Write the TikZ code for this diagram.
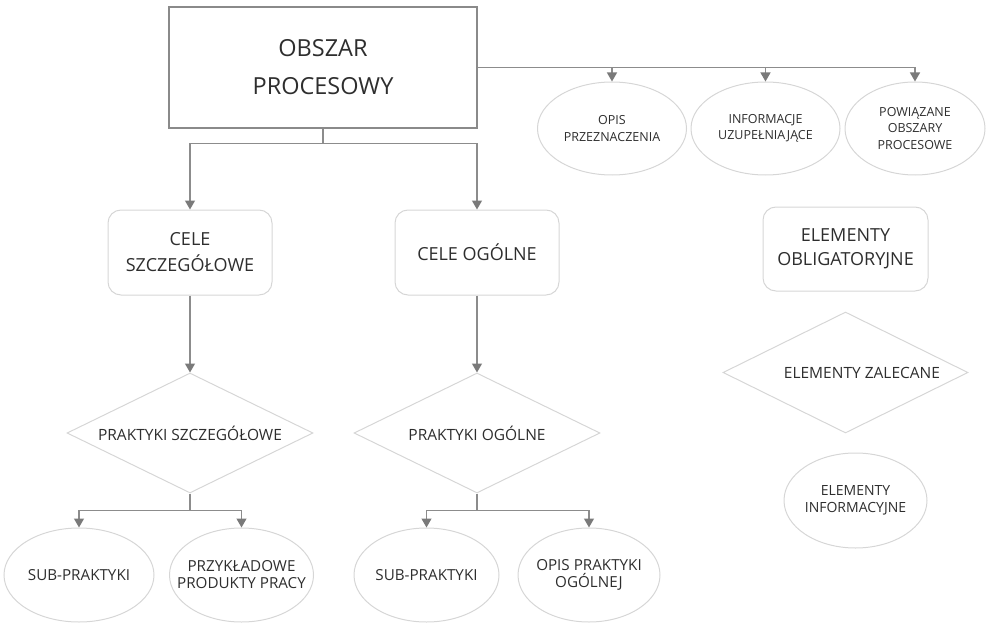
\documentclass[tikz,border=0pt]{standalone}
\usepackage{fontspec}
\setmainfont{Open Sans}
\usetikzlibrary{shapes.geometric,arrows.meta}
\definecolor{ink}{HTML}{2E2E2E}
\definecolor{wiregray}{HTML}{8C8C8C}
\definecolor{tipgray}{HTML}{7A7A7A}
\definecolor{framegray}{HTML}{8A8A8A}
\definecolor{rim}{HTML}{D6D6D6}
\begin{document}
\begin{tikzpicture}[x=1pt,y=-1pt,
  every node/.style={text=ink, inner sep=0pt, align=center},
  wire/.style={draw=wiregray, line width=1.3pt},
  arr/.style={wire, -{Triangle[width=10pt,length=9pt,color=tipgray]}},
  mainbox/.style={draw=framegray, line width=1.3pt, minimum width=308pt, minimum height=121pt,
    font=\fontsize{23.5}{38}\selectfont},
  goalbox/.style={draw=rim, line width=1pt, rounded corners=13pt, minimum width=164pt, minimum height=85pt,
    font=\fontsize{18}{26}\selectfont},
  oval/.style={ellipse, draw=rim, line width=1pt, inner xsep=-30pt, font=\fontsize{15.2}{17}\selectfont},
  topoval/.style={ellipse, draw=rim, line width=1pt, inner xsep=-20pt, minimum width=149pt, minimum height=93pt,
    font=\fontsize{12.5}{16.5}\selectfont},
  practice/.style={diamond, draw=rim, line width=1pt, aspect=2, minimum width=246pt, minimum height=120pt,
    font=\fontsize{15.5}{18}\selectfont}
]
\useasboundingbox (0,0) rectangle (988,623);

% top level (text sits a little below the box centre)
\node[mainbox] (main) at (323,67.5) {\raisebox{-7pt}{\begin{tabular}{@{}c@{}}OBSZAR\\PROCESOWY\end{tabular}}};

% descriptive elements on the right
\node[topoval] (opis) at (612,128.5) {OPIS\\PRZEZNACZENIA};
\node[topoval] (info) at (765.5,128.5) {INFORMACJE\\UZUPEŁNIAJĄCE};
\node[topoval, minimum width=140pt] (pow) at (915,128.5) {POWIĄZANE\\OBSZARY\\PROCESOWE};

% goals
\node[goalbox] (cs) at (190,252.5) {CELE\\SZCZEGÓŁOWE};
\node[goalbox] (co) at (477,252.5) {CELE OGÓLNE};

% practices
\node[practice] (ps) at (190,433) {PRAKTYKI SZCZEGÓŁOWE};
\node[practice] (po) at (477,433) {PRAKTYKI OGÓLNE};

% practice details
\node[oval, minimum width=150pt, minimum height=94pt] (sp1) at (79,575) {SUB-PRAKTYKI};
\node[oval, minimum width=144pt, minimum height=94pt] (pp) at (241.5,575) {PRZYKŁADOWE\\PRODUKTY PRACY};
\node[oval, minimum width=145pt, minimum height=94pt] (sp2) at (426.5,575) {SUB-PRAKTYKI};
\node[oval, minimum width=142pt, minimum height=94pt] (opo) at (589,575) {OPIS PRAKTYKI\\OGÓLNEJ};

% legend
\node[goalbox, minimum width=165pt, minimum height=84pt, font=\fontsize{18}{24}\selectfont] (obl) at (845.5,249) {ELEMENTY\\OBLIGATORYJNE};
\node[practice, minimum width=245pt, minimum height=121pt] (zal) at (845.5,372.5) {};
\node[font=\fontsize{15.5}{18}\selectfont] (zaltxt) at (862,372.5) {ELEMENTY ZALECANE};
\node[oval, minimum width=143pt, minimum height=95pt, font=\fontsize{14}{16.5}\selectfont] (inf) at (855.5,500.5) {ELEMENTY\\INFORMACYJNE};

% connectors: process area to goals
\draw[wire] (main.south) -- ++(0,15) coordinate (j1);
\draw[arr] (j1) -| (cs.north);
\draw[arr] (j1) -| (co.north);

% connectors: process area to descriptive elements
\draw[wire] (main.east) -- (pow.north |- main.east);
\draw[arr] (opis.north |- main.east) -- (opis.north);
\draw[arr] (info.north |- main.east) -- (info.north);
\draw[arr] (pow.north |- main.east) -- (pow.north);

% goals to practices
\draw[arr] (cs.south) -- (ps.north);
\draw[arr] (co.south) -- (po.north);

% practices to details
\draw[wire] (ps.south) -- ++(0,17) coordinate (j2);
\draw[arr] (j2) -| (sp1.north);
\draw[arr] (j2) -| (pp.north);
\draw[wire] (po.south) -- ++(0,17) coordinate (j3);
\draw[arr] (j3) -| (sp2.north);
\draw[arr] (j3) -| (opo.north);
\end{tikzpicture}
\end{document}
